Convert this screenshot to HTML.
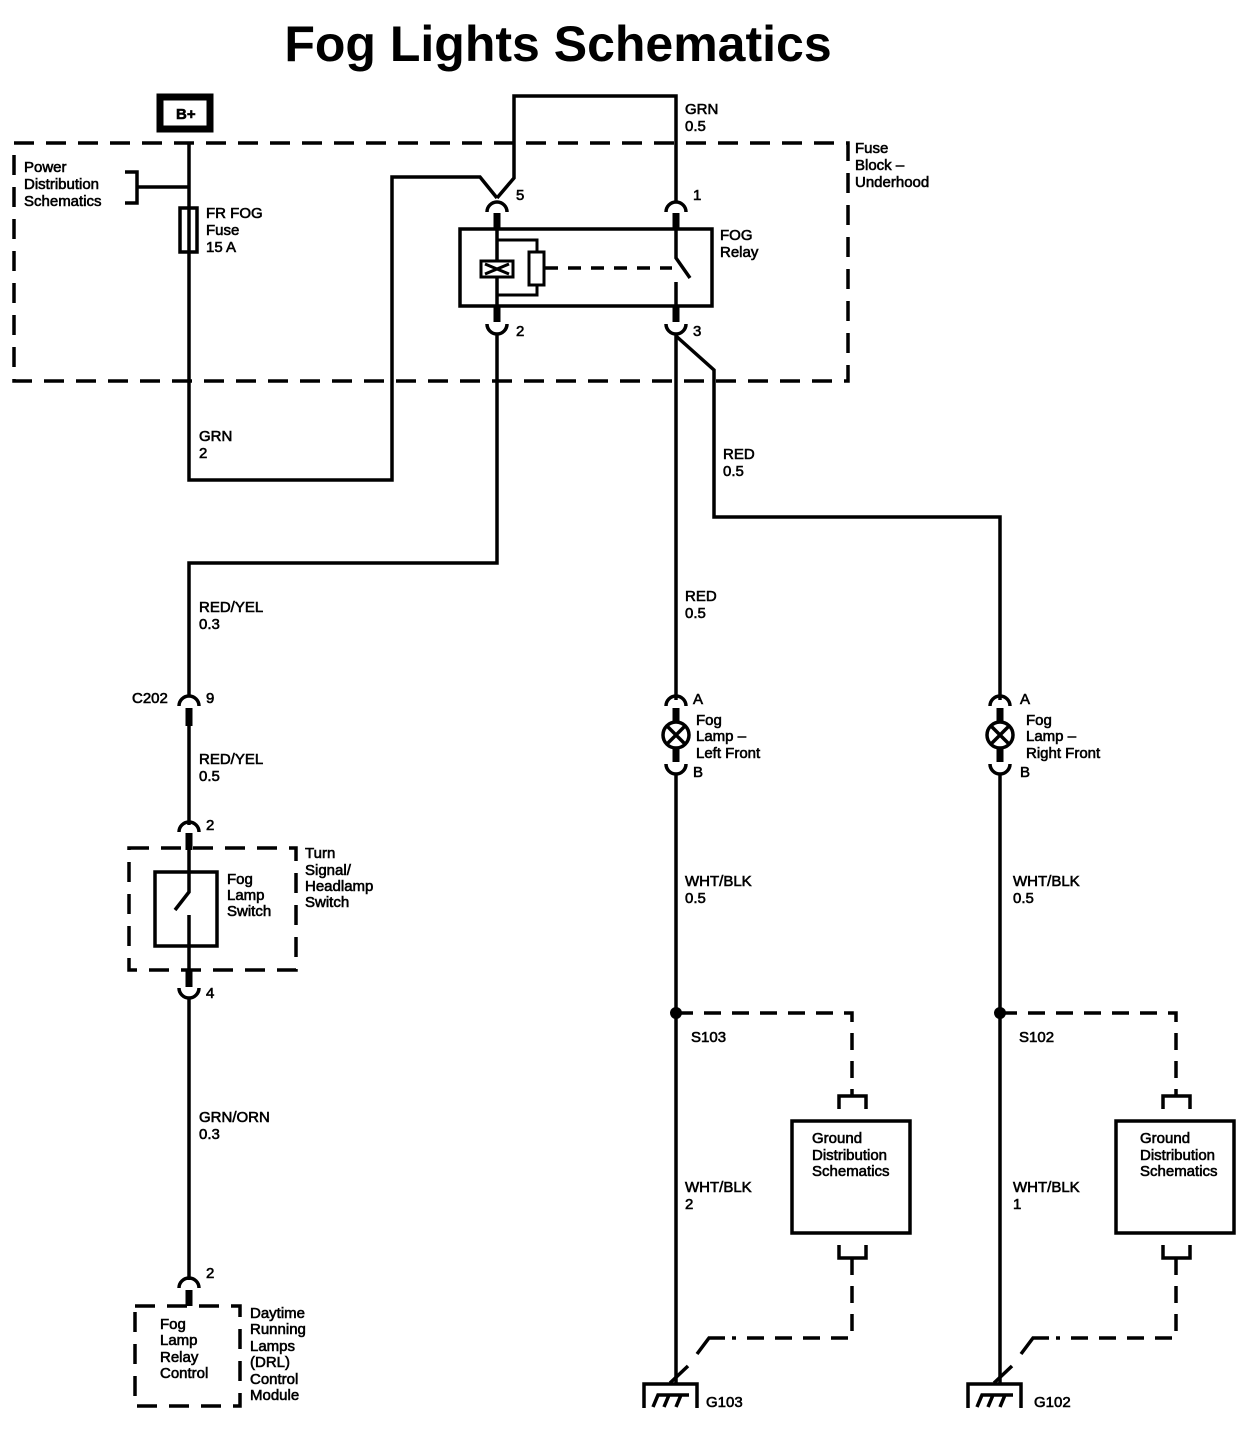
<!DOCTYPE html>
<html><head><meta charset="utf-8"><style>
html,body{margin:0;padding:0;background:#fff}
svg{display:block}
text{font-family:"Liberation Sans",Arial,sans-serif;font-size:15px;fill:#000;stroke:#000;stroke-width:0.6}
</style></head><body>
<svg width="1244" height="1440" viewBox="0 0 1244 1440" xmlns="http://www.w3.org/2000/svg">
<text x="558" y="61" text-anchor="middle" style="font-size:50px;font-weight:bold;stroke-width:0">Fog Lights Schematics</text>
<g fill="none" stroke="#000" stroke-width="3.5">
<rect x="160" y="97" width="50" height="32" stroke-width="7"/>
<rect x="14" y="143" width="834" height="238" stroke-dasharray="20,12"/>
<polyline points="189,143 189,480 392,480 392,177 480,177 497,198"/>
<rect x="180" y="208" width="17" height="44" fill="#fff"/>
<line x1="189" y1="208" x2="189" y2="252"/>
<polyline points="125,172 137,172 137,203 125,203"/>
<line x1="137" y1="187" x2="189" y2="187"/>
<polyline points="497,198 514,178 514,96 676,96 676,203"/>
<path d="M487,212 A10,10 0 0 1 507,212"/>
<path d="M666,212 A10,10 0 0 1 686,212"/>
<line x1="497" y1="213" x2="497" y2="229" stroke-width="7"/>
<line x1="676" y1="213" x2="676" y2="229" stroke-width="7"/>
<rect x="460" y="229" width="252" height="77"/>
<line x1="497" y1="229" x2="497" y2="306"/>
<polyline points="497,240 537,240 537,295 497,295" stroke-width="3"/>
<rect x="481" y="261" width="32" height="16" fill="#fff" stroke-width="3"/>
<path d="M485,264 L509,274 M485,274 L509,264" stroke-width="3"/>
<rect x="529" y="252" width="15" height="33" fill="#fff" stroke-width="3"/>
<line x1="545" y1="268" x2="672" y2="268" stroke-dasharray="13,10"/>
<polyline points="676,229 676,258 690,278"/>
<line x1="676" y1="282" x2="676" y2="306"/>
<line x1="497" y1="306" x2="497" y2="322" stroke-width="7"/>
<line x1="676" y1="306" x2="676" y2="322" stroke-width="7"/>
<path d="M487,324 A10,10 0 0 0 507,324"/>
<path d="M666,324 A10,10 0 0 0 686,324"/>
<polyline points="497,333 497,563 189,563 189,697"/>
<path d="M179,706 A10,10 0 0 1 199,706"/>
<line x1="189" y1="708" x2="189" y2="726" stroke-width="7"/>
<line x1="189" y1="726" x2="189" y2="825"/>
<path d="M179,832 A10,10 0 0 1 199,832"/>
<line x1="189" y1="833" x2="189" y2="850" stroke-width="7"/>
<rect x="129" y="848" width="167" height="122" stroke-dasharray="20,12"/>
<rect x="155" y="872" width="62" height="74"/>
<polyline points="189,850 189,892 175,910"/>
<line x1="189" y1="915" x2="189" y2="970"/>
<line x1="189" y1="970" x2="189" y2="987" stroke-width="7"/>
<path d="M179,988 A10,10 0 0 0 199,988"/>
<line x1="189" y1="997" x2="189" y2="1280"/>
<path d="M179,1288 A10,10 0 0 1 199,1288"/>
<line x1="189" y1="1290" x2="189" y2="1306" stroke-width="7"/>
<rect x="135" y="1306" width="105" height="100" stroke-dasharray="20,12"/>
<polyline points="676,333 676,700"/>
<polyline points="676,336 714,370 714,517 1000,517 1000,700"/>
</g>
<g id="L" fill="none" stroke="#000" stroke-width="3.5">
<path d="M666,706 A10,10 0 0 1 686,706"/>
<line x1="676" y1="708" x2="676" y2="722" stroke-width="7"/>
<circle cx="676" cy="735" r="13" fill="#fff"/>
<path d="M667,726 L685,744 M685,726 L667,744"/>
<line x1="676" y1="748" x2="676" y2="762" stroke-width="7"/>
<path d="M666,764 A10,10 0 0 0 686,764"/>
<line x1="676" y1="773" x2="676" y2="1383"/>
<circle cx="676" cy="1013" r="6" fill="#000" stroke="none"/>
<polyline points="676,1013 852,1013 852,1095" stroke-dasharray="17,11"/>
<polyline points="839,1109 839,1096 866,1096 866,1109"/>
<rect x="792" y="1121" width="118" height="112"/>
<polyline points="839,1245 839,1258 866,1258 866,1245"/>
<polyline points="852,1258 852,1338 732,1338" stroke-dasharray="17,11"/>
<polyline points="725,1338 709,1338 697,1354"/>
<line x1="670" y1="1383" x2="688" y2="1366"/>
<polyline points="644,1408 644,1384 697,1384 697,1408"/>
<path d="M653,1407 L658,1395 L669,1395 M664,1407 L669,1395 L681,1395 M676,1407 L681,1395 L689,1395"/>
</g>
<use href="#L" transform="translate(324,0)"/>
<text x="176" y="119" style="font-weight:bold">B+</text>
<g>
<text x="24" y="172">Power</text><text x="24" y="189">Distribution</text><text x="24" y="206">Schematics</text>
<text x="206" y="218">FR FOG</text><text x="206" y="235">Fuse</text><text x="206" y="252">15 A</text>
<text x="685" y="114">GRN</text><text x="685" y="131">0.5</text>
<text x="855" y="153">Fuse</text><text x="855" y="170">Block –</text><text x="855" y="187">Underhood</text>
<text x="516" y="200">5</text><text x="693" y="200">1</text>
<text x="720" y="240">FOG</text><text x="720" y="257">Relay</text>
<text x="516" y="336">2</text><text x="693" y="336">3</text>
<text x="199" y="441">GRN</text><text x="199" y="458">2</text>
<text x="723" y="459">RED</text><text x="723" y="476">0.5</text>
<text x="199" y="612">RED/YEL</text><text x="199" y="629">0.3</text>
<text x="685" y="601">RED</text><text x="685" y="618">0.5</text>
<text x="132" y="703">C202</text><text x="206" y="703">9</text>
<text x="199" y="764">RED/YEL</text><text x="199" y="781">0.5</text>
<text x="206" y="830">2</text><text x="206" y="998">4</text><text x="206" y="1278">2</text>
<text x="305" y="858">Turn</text><text x="305" y="875">Signal/</text><text x="305" y="891">Headlamp</text><text x="305" y="907">Switch</text>
<text x="227" y="884">Fog</text><text x="227" y="900">Lamp</text><text x="227" y="916">Switch</text>
<text x="199" y="1122">GRN/ORN</text><text x="199" y="1139">0.3</text>
<text x="160" y="1329">Fog</text><text x="160" y="1345">Lamp</text><text x="160" y="1362">Relay</text><text x="160" y="1378">Control</text>
<text x="250" y="1318">Daytime</text><text x="250" y="1334">Running</text><text x="250" y="1351">Lamps</text><text x="250" y="1367">(DRL)</text><text x="250" y="1384">Control</text><text x="250" y="1400">Module</text>
<text x="693" y="704">A</text><text x="693" y="777">B</text>
<text x="696" y="725">Fog</text><text x="696" y="741">Lamp –</text><text x="696" y="758">Left Front</text>
<text x="1020" y="704">A</text><text x="1020" y="777">B</text>
<text x="1026" y="725">Fog</text><text x="1026" y="741">Lamp –</text><text x="1026" y="758">Right Front</text>
<text x="685" y="886">WHT/BLK</text><text x="685" y="903">0.5</text>
<text x="1013" y="886">WHT/BLK</text><text x="1013" y="903">0.5</text>
<text x="691" y="1042">S103</text><text x="1019" y="1042">S102</text>
<text x="812" y="1143">Ground</text><text x="812" y="1160">Distribution</text><text x="812" y="1176">Schematics</text>
<text x="1140" y="1143">Ground</text><text x="1140" y="1160">Distribution</text><text x="1140" y="1176">Schematics</text>
<text x="685" y="1192">WHT/BLK</text><text x="685" y="1209">2</text>
<text x="1013" y="1192">WHT/BLK</text><text x="1013" y="1209">1</text>
<text x="706" y="1407">G103</text><text x="1034" y="1407">G102</text>
</g>
</svg>
</body></html>
